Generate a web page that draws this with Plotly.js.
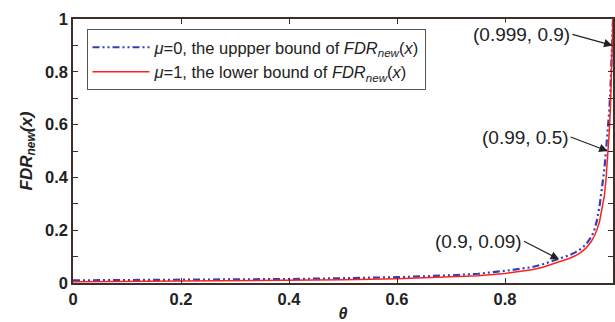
<!DOCTYPE html>
<html>
<head>
<meta charset="utf-8">
<script src="https://cdn.plot.ly/plotly-3.0.1.min.js"></script>
<style>html,body{margin:0;padding:0;background:#fff;}#chart{width:615px;height:322px;}</style>
</head>
<body>
<div id="chart"></div>
<script>
// theta grid
const theta = [0, 0.1, 0.2, 0.3, 0.4, 0.5, 0.6, 0.7, 0.75, 0.8, 0.85, 0.87, 0.89, 0.9, 0.92, 0.93, 0.94, 0.95, 0.96, 0.965, 0.97, 0.975, 0.98, 0.984, 0.987, 0.99, 0.993, 0.995, 0.997, 0.998, 0.999, 1];
// mu = 0, upper bound of FDR_new(x)
const upperBound = [0.010, 0.011, 0.012, 0.013, 0.015, 0.018, 0.022, 0.029, 0.035, 0.046, 0.060, 0.071, 0.084, 0.091, 0.106, 0.116, 0.128, 0.146, 0.175, 0.197, 0.235, 0.290, 0.360, 0.430, 0.500, 0.570, 0.650, 0.720, 0.820, 0.870, 0.920, 1.0];
// mu = 1, lower bound of FDR_new(x)
const lowerBound = [0.005, 0.006, 0.007, 0.008, 0.010, 0.012, 0.016, 0.022, 0.027, 0.036, 0.050, 0.060, 0.073, 0.080, 0.094, 0.103, 0.115, 0.132, 0.158, 0.176, 0.200, 0.232, 0.280, 0.330, 0.390, 0.470, 0.570, 0.650, 0.760, 0.830, 0.900, 1.0];
const seriesNames = [
  '<i>μ</i>=0, the uppper bound of <i>FDR<sub>new</sub></i>(<i>x</i>)',
  '<i>μ</i>=1, the lower bound of <i>FDR<sub>new</sub></i>(<i>x</i>)'
];
// labelled points [theta, FDR]
const markedX = [0.999, 0.99, 0.9];
const markedY = [0.9, 0.5, 0.09];
const markedLabels = ['(0.999, 0.9)', '(0.99, 0.5)', '(0.9, 0.09)'];

const axisColor = '#3b2f2a';
const font = 'Liberation Sans, Arial, sans-serif';

const traces = [
  {x: theta, y: upperBound, name: seriesNames[0], mode: 'lines',
   line: {color: '#3040b8', width: 2.2, dash: '7px,3px,2px,3px,2px,3px'}},
  {x: theta, y: lowerBound, name: seriesNames[1], mode: 'lines',
   line: {color: '#ff2020', width: 1.5}}
];

// arrow tail offsets (px) from the marked point; label's right edge sits at the tail
const arrowTail = [[-40, -11], [-37, -14], [-35, -18]];
const annotations = markedX.map((mx, i) => ({
  x: mx, y: markedY[i], xref: 'x', yref: 'y', text: markedLabels[i],
  showarrow: true, ax: arrowTail[i][0], ay: arrowTail[i][1],
  xanchor: 'right', yanchor: 'middle',
  arrowhead: 2, arrowsize: 1.4, arrowwidth: 1.2, arrowcolor: '#222',
  bgcolor: 'rgba(255,255,255,0.9)',
  font: {family: font, size: 19, color: '#222'}
}));

const layout = {
  width: 615, height: 322,
  margin: {l: 72.7, r: 2.3, t: 19, b: 39},
  paper_bgcolor: '#fff', plot_bgcolor: '#fff',
  showlegend: true,
  legend: {x: 0.025, y: 0.962, xanchor: 'left', yanchor: 'top', bgcolor: '#fff',
    bordercolor: '#555', borderwidth: 1, itemwidth: 57, tracegroupgap: 0,
    font: {family: font, size: 16.5, color: '#222'}},
  xaxis: {range: [0, 1], dtick: 0.2, tick0: 0, showgrid: false, zeroline: false,
    showline: true, linecolor: axisColor, linewidth: 1.8, mirror: 'ticks',
    ticks: 'inside', ticklen: 5, tickcolor: axisColor, tickwidth: 1,
    tickfont: {family: font, size: 16.5, color: '#222', weight: 'bold'},
    title: {text: '<b><i>θ</i></b>', font: {family: font, size: 16, color: '#222'}, standoff: 2}},
  yaxis: {range: [0, 1], dtick: 0.2, tick0: 0, showgrid: false, zeroline: false,
    showline: true, linecolor: axisColor, linewidth: 1.8, mirror: 'ticks',
    ticks: 'inside', ticklen: 5, tickcolor: axisColor, tickwidth: 1,
    minor: {dtick: 0.1, ticks: 'inside', ticklen: 5, tickcolor: axisColor, tickwidth: 1, showgrid: false},
    tickfont: {family: font, size: 16.5, color: '#222', weight: 'bold'},
    title: {text: '<b><i>FDR<sub>new</sub>(x)</i></b>', font: {family: font, size: 17, color: '#222'}, standoff: 8}},
  annotations: annotations
};

Plotly.newPlot('chart', traces, layout, {displayModeBar: false, staticPlot: true});
</script>
</body>
</html>
